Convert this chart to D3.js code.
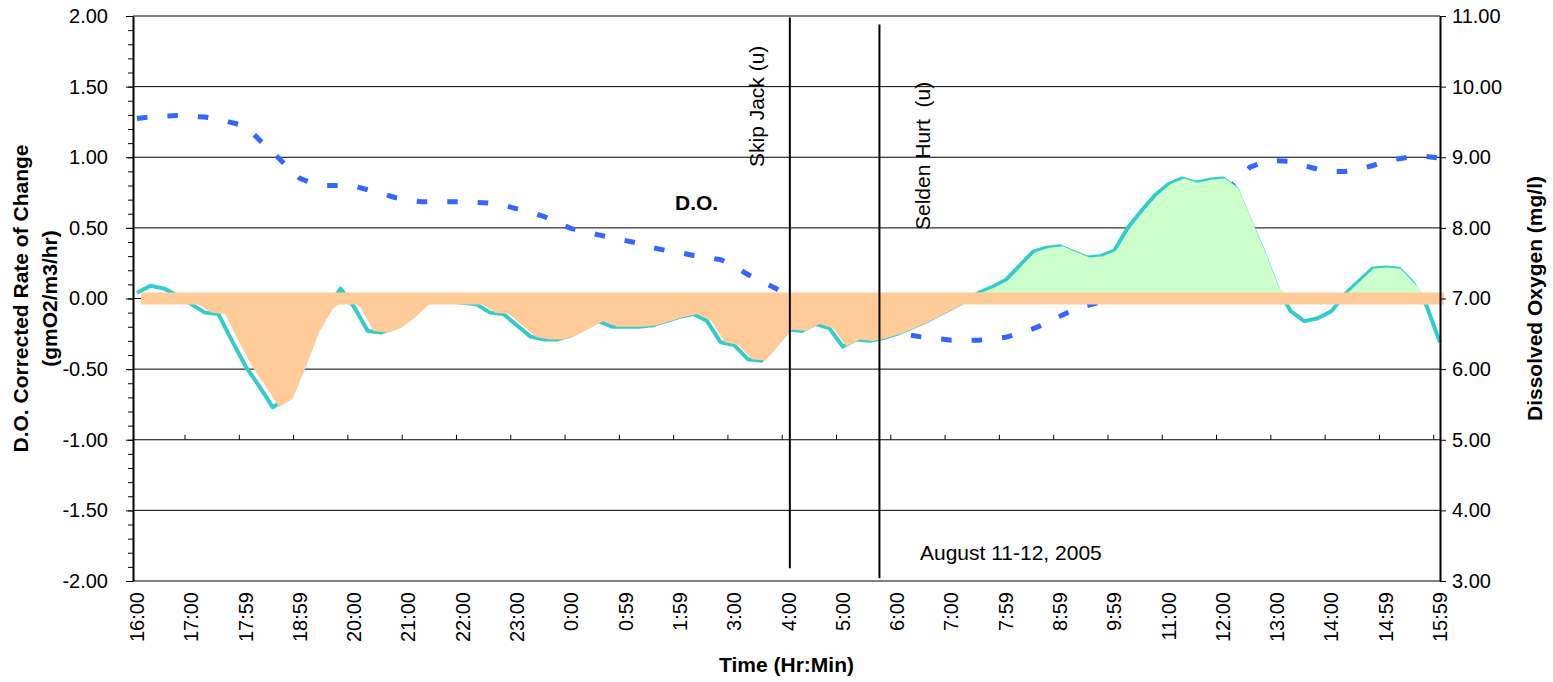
<!DOCTYPE html>
<html>
<head>
<meta charset="utf-8">
<script src="https://cdn.jsdelivr.net/npm/d3@7"></script>
<style>
    body { margin: 0; background: #fff; }
    svg { display: block; font-family: "Liberation Sans", Arial, sans-serif; }
    .axis text { font-size: 20px; fill: #000; font-family: "Liberation Sans", Arial, sans-serif; }
    .axis line { stroke: #000; }
    .axis-title { font-size: 21px; font-weight: bold; }
    .note { font-size: 21px; white-space: pre; }
</style>
</head>
<body>
<div id="chart"></div>
<script>
// hourly labels, one every 4 samples (15 min sampling)
const timeLabels = ['16:00', '17:00', '17:59', '18:59', '20:00', '21:00', '22:00', '23:00',
    '0:00', '0:59', '1:59', '3:00', '4:00', '5:00', '6:00', '7:00', '7:59', '8:59', '9:59',
    '11:00', '12:00', '13:00', '14:00', '14:59', '15:59'];

// D.O. corrected rate of change (gmO2/m3/hr), left axis
const rateChange = [
    0.04, 0.09, 0.07, 0.02, -0.04, -0.10, -0.11, -0.30, -0.48, -0.62,
    -0.77, -0.71, -0.48, -0.23, -0.07, 0.07, -0.06, -0.23, -0.24, -0.21,
    -0.14, -0.05, -0.01, -0.02, -0.03, -0.04, -0.10, -0.11, -0.19, -0.27,
    -0.29, -0.29, -0.26, -0.21, -0.16, -0.20, -0.20, -0.20, -0.19, -0.16,
    -0.13, -0.11, -0.16, -0.31, -0.33, -0.43, -0.44, -0.33, -0.22, -0.23,
    -0.18, -0.21, -0.34, -0.29, -0.30, -0.28, -0.25, -0.21, -0.17, -0.12,
    -0.07, -0.02, 0.04, 0.08, 0.13, 0.23, 0.33, 0.36, 0.37, 0.33,
    0.29, 0.30, 0.34, 0.50, 0.62, 0.73, 0.81, 0.85, 0.82, 0.84,
    0.85, 0.78, 0.55, 0.33, 0.08, -0.09, -0.16, -0.14, -0.09, 0.03,
    0.12, 0.21, 0.22, 0.21, 0.11, -0.05, -0.31
];

// Dissolved oxygen (mg/l), right axis
const dissolvedOxygen = [
    9.55, 9.57, 9.58, 9.59, 9.58, 9.57, 9.54, 9.49, 9.44, 9.25,
    9.07, 8.88, 8.70, 8.63, 8.60, 8.60, 8.59, 8.54, 8.49, 8.43,
    8.39, 8.37, 8.37, 8.37, 8.37, 8.36, 8.35, 8.32, 8.27, 8.22,
    8.16, 8.07, 7.99, 7.95, 7.90, 7.86, 7.82, 7.78, 7.72, 7.68,
    7.65, 7.61, 7.58, 7.55, 7.46, 7.34, 7.24, 7.15, 7.04, 6.92,
    6.82, 6.74, 6.67, 6.61, 6.57, 6.53, 6.50, 6.48, 6.45, 6.43,
    6.41, 6.41, 6.41, 6.43, 6.45, 6.51, 6.57, 6.65, 6.75, 6.84,
    6.90, 6.95, 7.05, 7.19, 7.35, 7.52, 7.69, 7.86, 8.05, 8.23,
    8.44, 8.67, 8.86, 8.93, 8.95, 8.94, 8.88, 8.83, 8.80, 8.80,
    8.83, 8.88, 8.94, 8.98, 9.01, 9.01, 8.99
];

const rateTicks = [2, 1.5, 1, 0.5, 0, -0.5, -1, -1.5, -2];
const oxygenTicks = [11, 10, 9, 8, 7, 6, 5, 4, 3];

// sample ranges covered by the two filled series
const respirationSpan = [0, 62];
const productionSpan = [61, 95];

class OxygenChart {
    constructor() {
        this.width = 1553;
        this.height = 682;
        this.plot = { left: 133, right: 1440, top: 16, bottom: 581 };
        this.drawPlot();
    }

    drawPlot() {
        let p = this.plot;
        let n = rateChange.length - 1;
        let fmt = d => d.toFixed(2);   // plain hyphen minus, like the original
        this.svg = d3.select('#chart').append('svg')
            .attr('width', this.width)
            .attr('height', this.height);
        let svg = this.svg;

        let x = d3.scaleLinear().domain([0, n]).range([137, p.right]);
        // filled series sit on a slightly offset category axis
        let xFill = d3.scaleLinear().domain([0, n]).range([144, p.right + 1]);
        let yRate = d3.scaleLinear().domain([-2, 2]).range([p.bottom, p.top]);
        let yDO = d3.scaleLinear().domain([3, 11]).range([p.bottom, p.top]);

        //gridlines + plot border
        svg.append('g').selectAll('line')
            .data(rateTicks.filter(v => Math.abs(v) < 2))
            .join('line')
            .attr('x1', p.left).attr('x2', p.right)
            .attr('y1', d => yRate(d)).attr('y2', d => yRate(d))
            .attr('stroke', '#000').attr('stroke-width', 1);
        svg.append('g').selectAll('line')
            .data([2, -2])
            .join('line')
            .attr('x1', p.left).attr('x2', p.right)
            .attr('y1', d => yRate(d)).attr('y2', d => yRate(d))
            .attr('stroke', '#808080').attr('stroke-width', 2);

        // D.O. dashed
        svg.append('path')
            .datum(dissolvedOxygen)
            .attr('d', d3.line().x((d, i) => x(i)).y(d => yDO(d)))
            .attr('fill', 'none')
            .attr('stroke', '#3366FF')
            .attr('stroke-width', 5)
            .attr('stroke-dasharray', '10.5,20');

        // rate of change line
        svg.append('path')
            .datum(rateChange)
            .attr('d', d3.line().x((d, i) => x(i)).y(d => yRate(d)))
            .attr('fill', 'none')
            .attr('stroke', '#33CCCC')
            .attr('stroke-width', 4)
            .attr('stroke-linejoin', 'round');

        let negArea = d3.area()
            .defined((d, i) => i >= respirationSpan[0] && i <= respirationSpan[1])
            .x((d, i) => xFill(i))
            .y0(yRate(0))
            .y1(d => yRate(Math.min(d, 0)));
        let posArea = d3.area()
            .defined((d, i) => i >= productionSpan[0] && i <= productionSpan[1])
            .x((d, i) => xFill(i))
            .y0(yRate(0))
            .y1(d => yRate(Math.max(d, 0)));
        svg.append('path').datum(rateChange).attr('d', negArea).attr('fill', '#FFCC99');
        svg.append('path').datum(rateChange).attr('d', posArea).attr('fill', '#CCFFCC');

        // zero band
        svg.append('line')
            .attr('x1', xFill(0) - 3).attr('x2', xFill(n) + 3)
            .attr('y1', yRate(0)).attr('y2', yRate(0))
            .attr('stroke', '#FFCC99').attr('stroke-width', 12);

        // boat markers
        svg.append('line')
            .attr('x1', x(48.1)).attr('x2', x(48.1))
            .attr('y1', yRate(1.99)).attr('y2', yRate(-1.91))
            .attr('stroke', '#000').attr('stroke-width', 2);
        svg.append('line')
            .attr('x1', x(54.7)).attr('x2', x(54.7))
            .attr('y1', yRate(1.94)).attr('y2', yRate(-1.98))
            .attr('stroke', '#000').attr('stroke-width', 2);

        //axes
        let leftAxis = svg.append('g').classed('axis', true)
            .attr('transform', `translate(${p.left},0)`)
            .call(d3.axisLeft(yRate).tickValues(rateTicks).tickFormat(fmt)
                .tickSize(7).tickSizeOuter(0).tickPadding(18));
        leftAxis.select('.domain').attr('stroke', '#000').attr('stroke-width', 2);
        svg.append('g').classed('axis', true)
            .attr('transform', `translate(${p.left},0)`)
            .call(d3.axisLeft(yRate).tickValues(d3.range(-20, 21).map(v => v / 10))
                .tickSize(5).tickFormat(''))
            .select('.domain').remove();

        let rightAxis = svg.append('g').classed('axis', true)
            .attr('transform', `translate(${p.right},0)`)
            .call(d3.axisRight(yDO).tickValues(oxygenTicks).tickFormat(fmt)
                .tickSize(6).tickSizeOuter(0).tickPadding(6));
        rightAxis.select('.domain').attr('stroke', '#000').attr('stroke-width', 2);

        // category ticks sit on the -1.00 line
        svg.append('g').classed('axis', true)
            .attr('transform', `translate(0,${yRate(-1)})`)
            .call(d3.axisBottom(x).tickValues(d3.range(1, timeLabels.length).map(k => 4 * k - 0.5))
                .tickSize(-5).tickSizeOuter(0).tickFormat(''))
            .select('.domain').remove();

        svg.append('g').classed('axis', true)
            .selectAll('text')
            .data(timeLabels)
            .join('text')
            .attr('transform', (d, k) => `translate(${x(4 * k)},592) rotate(-90)`)
            .attr('text-anchor', 'end')
            .attr('dy', '0.35em')
            .text(d => d);

        //titles
        svg.append('text').classed('axis-title', true)
            .attr('transform', 'translate(27.5,298.5) rotate(-90)')
            .attr('text-anchor', 'middle')
            .text('D.O. Corrected Rate of Change');
        svg.append('text').classed('axis-title', true)
            .attr('transform', 'translate(56.5,298.5) rotate(-90)')
            .attr('text-anchor', 'middle')
            .text('(gmO2/m3/hr)');
        svg.append('text').classed('axis-title', true)
            .attr('transform', 'translate(1542,298.5) rotate(-90)')
            .attr('text-anchor', 'middle')
            .text('Dissolved Oxygen (mg/l)');
        svg.append('text').classed('axis-title', true)
            .attr('x', (p.left + p.right) / 2).attr('y', 672)
            .attr('text-anchor', 'middle')
            .text('Time (Hr:Min)');

        // notes
        svg.append('text').classed('note', true)
            .attr('transform', 'translate(764,167) rotate(-90)')
            .text('Skip Jack (u)');
        svg.append('text').classed('note', true)
            .attr('transform', 'translate(930,230) rotate(-90)')
            .text('Selden Hurt  (u)');
        svg.append('text').classed('axis-title', true)
            .attr('x', 675).attr('y', 210)
            .text('D.O.');
        svg.append('text').classed('note', true)
            .attr('x', 920).attr('y', 560)
            .text('August 11-12, 2005');
    }
}

new OxygenChart();
</script>
</body>
</html>
